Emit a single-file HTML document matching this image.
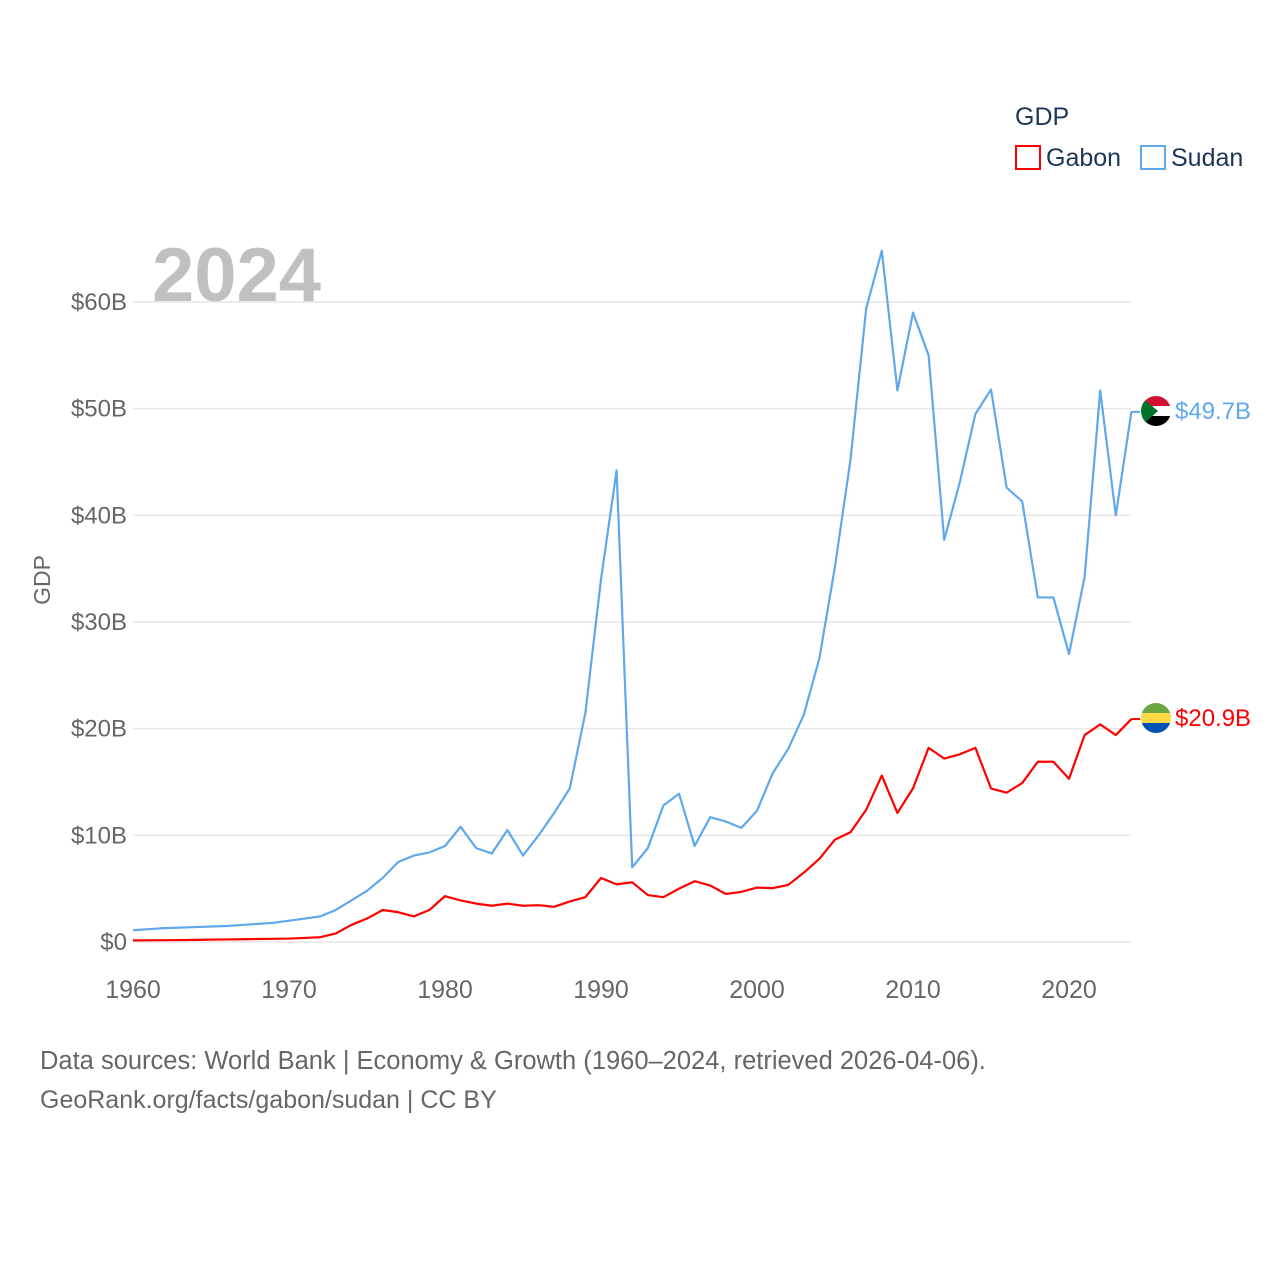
<!DOCTYPE html>
<html><head><meta charset="utf-8"><style>
body{margin:0;background:#fff;}
svg{display:block;font-family:"Liberation Sans",sans-serif;}
</style></head><body>
<svg id="chart" width="1280" height="1280" viewBox="0 0 1280 1280">
<text x="1015" y="125" font-size="25" fill="#1d3557">GDP</text>
<rect x="1016" y="146" width="24" height="23" fill="none" stroke="#ff0000" stroke-width="2"/>
<text x="1046" y="166" font-size="25" fill="#1d3557">Gabon</text>
<rect x="1141" y="146" width="24" height="23" fill="none" stroke="#5fa8ec" stroke-width="2"/>
<text x="1171" y="166" font-size="25" fill="#1d3557">Sudan</text>
<text x="152" y="301" font-size="76" font-weight="bold" fill="#c0c0c0">2024</text>
<text transform="translate(50,580) rotate(-90)" text-anchor="middle" font-size="23" fill="#666">GDP</text>
<g id="grid"></g><g id="ylabels"></g><g id="xlabels"></g><g id="lines"></g>
<g>
<clipPath id="cs"><circle cx="1156" cy="411" r="15"/></clipPath>
<g clip-path="url(#cs)"><rect x="1140" y="396" width="32" height="10" fill="#d21034"/><rect x="1140" y="406" width="32" height="10" fill="#fff"/><rect x="1140" y="416" width="32" height="11" fill="#000"/><polygon points="1140,396 1158,411 1140,427" fill="#007229"/></g></g>
<text x="1175" y="419" font-size="24" fill="#5fa8ec">$49.7B</text>
<g>
<clipPath id="cg"><circle cx="1156" cy="718" r="15"/></clipPath>
<g clip-path="url(#cg)"><rect x="1140" y="703" width="32" height="10" fill="#6da544"/><rect x="1140" y="713" width="32" height="10" fill="#ffda44"/><rect x="1140" y="723" width="32" height="11" fill="#0052b4"/></g></g>
<text x="1175" y="726" font-size="24" fill="#ff0000">$20.9B</text>
<text x="40" y="1069" font-size="25.5" fill="#666">Data sources: World Bank | Economy &amp; Growth (1960–2024, retrieved 2026-04-06).</text>
<text x="40" y="1108" font-size="25" fill="#666">GeoRank.org/facts/gabon/sudan | CC BY</text>
</svg>
<script>
const years=[];for(let y=1960;y<=2024;y++)years.push(y);
const sudan=[1.1,1.2,1.3,1.35,1.4,1.45,1.5,1.6,1.7,1.8,2.0,2.2,2.4,3.0,3.9,4.8,6.0,7.5,8.1,8.4,9.0,10.8,8.8,8.3,10.5,8.1,10.0,12.1,14.4,21.5,34,44.2,7.0,8.8,12.8,13.9,9.0,11.7,11.3,10.7,12.3,15.8,18.1,21.3,26.6,35.2,45.3,59.4,64.8,51.7,59.0,55.0,37.7,43.1,49.5,51.8,42.6,41.3,32.3,32.3,27.0,34.2,51.7,40.0,49.7];
const gabon=[0.15,0.16,0.17,0.18,0.2,0.22,0.24,0.26,0.28,0.3,0.32,0.38,0.45,0.8,1.6,2.2,3.0,2.8,2.4,3.0,4.3,3.9,3.6,3.4,3.6,3.4,3.45,3.3,3.8,4.2,6.0,5.4,5.6,4.4,4.2,5.0,5.7,5.3,4.5,4.7,5.1,5.05,5.35,6.5,7.8,9.6,10.3,12.4,15.6,12.1,14.4,18.2,17.2,17.6,18.2,14.4,14.0,14.9,16.9,16.9,15.3,19.4,20.4,19.4,20.9];
const yTicks=[0,10,20,30,40,50,60];
const xTicks=[1960,1970,1980,1990,2000,2010,2020];
const NS="http://www.w3.org/2000/svg";
const X=y=>133+(y-1960)*15.6, Y=v=>942-v*10.667;
function mk(t,a,p){const e=document.createElementNS(NS,t);for(const k in a)e.setAttribute(k,a[k]);document.getElementById(p).appendChild(e);return e;}
yTicks.forEach(v=>{
 const l=mk('line',{x1:133,x2:1131,y1:Y(v),y2:Y(v),stroke:'#e6e6e6','stroke-width':1.5},'grid');
 
 
 const t=mk('text',{x:127,y:Y(v)+8,'text-anchor':'end','font-size':24,fill:'#666'},'ylabels');
 t.textContent='$'+v+(v?'B':'');
 
 
});
xTicks.forEach(y=>{
 const t=mk('text',{x:X(y),y:998,'text-anchor':'middle','font-size':25,fill:'#666'},'xlabels');
 t.textContent=y;
 
 
});
function line(d,c,n){
 const p=mk('polyline',{points:d.map((v,i)=>X(years[i])+','+Y(v)).join(' '),fill:'none',stroke:c,'stroke-width':2.2,'stroke-linejoin':'round'},'lines');
 
 
 const last=d[d.length-1];
 mk('line',{x1:X(2024),x2:1140,y1:Y(last),y2:Y(last),stroke:c,'stroke-width':2},'lines');
}
line(sudan,'#5fa8ec','sudan-line');
line(gabon,'#ff0000','gabon-line');
</script>
</body></html>
